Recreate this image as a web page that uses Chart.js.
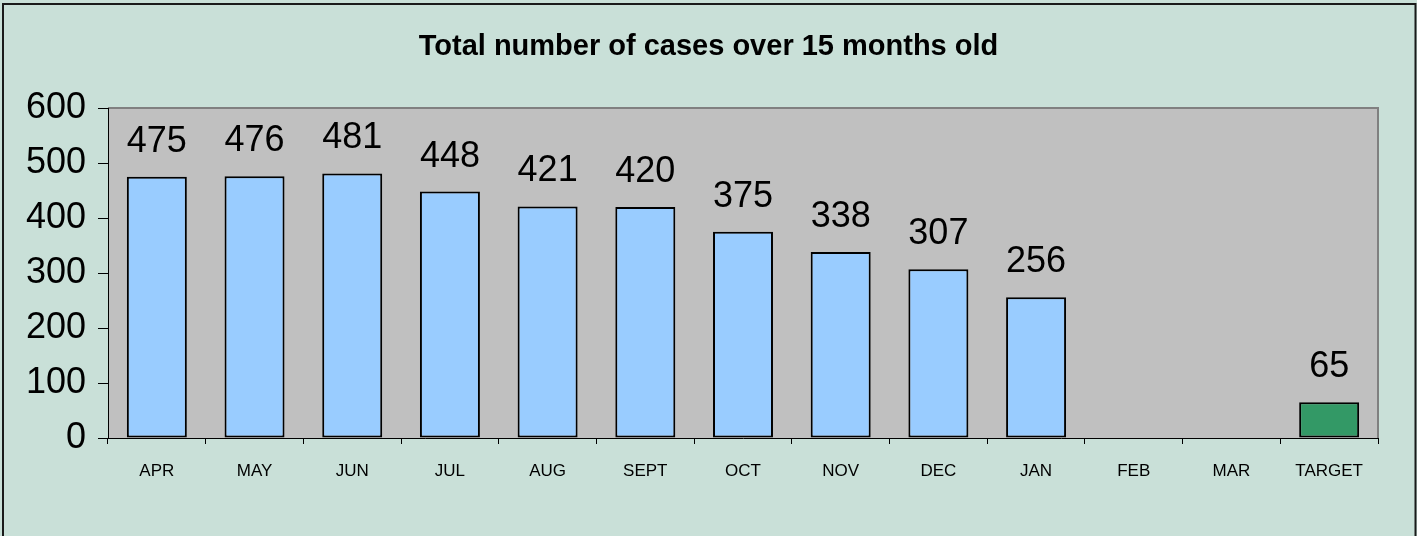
<!DOCTYPE html>
<html>
<head>
<meta charset="utf-8">
<script src="https://cdn.jsdelivr.net/npm/chart.js@4"></script>
<style>
html,body{margin:0;padding:0;background:#c9e0d8;}
#wrap{width:1417px;height:536px;position:relative;}
</style>
</head>
<body>
<div id="wrap"><canvas id="c" width="1417" height="536"></canvas></div>
<script>
const categories = ["APR","MAY","JUN","JUL","AUG","SEPT","OCT","NOV","DEC","JAN","FEB","MAR","TARGET"];
const cases = [475,476,481,448,421,420,375,338,307,256,null,null,65];
const barColors = ["#99ccff","#99ccff","#99ccff","#99ccff","#99ccff","#99ccff","#99ccff","#99ccff","#99ccff","#99ccff","#99ccff","#99ccff","#339966"];
const yTicks = [0,100,200,300,400,500,600];
const titleText = "Total number of cases over 15 months old";

const frame = {
  id: 'frame',
  beforeDraw(chart) {
    const ctx = chart.ctx, a = chart.chartArea;
    ctx.save();
    ctx.fillStyle = '#c9e0d8';
    ctx.fillRect(0, 0, chart.width, chart.height);
    ctx.strokeStyle = '#1a1a1a';
    ctx.lineWidth = 2;
    ctx.beginPath();
    ctx.moveTo(3, chart.height + 5);
    ctx.lineTo(3, 4);
    ctx.lineTo(1415.5, 4);
    ctx.lineTo(1415.5, chart.height + 5);
    ctx.stroke();
    ctx.fillStyle = '#c0c0c0';
    ctx.fillRect(a.left, a.top, a.right - a.left, a.bottom - a.top);
    ctx.strokeStyle = '#808080';
    ctx.lineWidth = 2;
    ctx.beginPath();
    ctx.moveTo(a.left, a.top);
    ctx.lineTo(a.right, a.top);
    ctx.lineTo(a.right, a.bottom);
    ctx.stroke();
    ctx.restore();
  }
};

const valueLabels = {
  id: 'valueLabels',
  afterDatasetsDraw(chart) {
    const ctx = chart.ctx;
    const meta = chart.getDatasetMeta(0);
    ctx.save();
    ctx.font = '36px "Liberation Sans", Arial, sans-serif';
    ctx.fillStyle = '#000';
    ctx.textAlign = 'center';
    ctx.textBaseline = 'alphabetic';
    meta.data.forEach((bar, i) => {
      const v = cases[i];
      if (v === null || v === undefined) return;
      ctx.fillText(String(v), bar.x, bar.y - 25);
    });
    ctx.restore();
  }
};

new Chart(document.getElementById('c'), {
  type: 'bar',
  data: {
    labels: categories,
    datasets: [{
      data: cases,
      backgroundColor: barColors,
      borderColor: '#000000',
      borderWidth: 2,
      borderSkipped: false,
      barPercentage: 0.614,
      categoryPercentage: 1.0
    }]
  },
  options: {
    responsive: false,
    animation: false,
    events: [],
    layout: { padding: { left: 0, right: 0, top: 0, bottom: 0 } },
    plugins: {
      legend: { display: false },
      tooltip: { enabled: false },
      title: {
        display: true,
        text: titleText,
        color: '#000',
        font: { family: '"Liberation Sans", Arial, sans-serif', size: 29, weight: 'bold', lineHeight: 1.2 },
        padding: { top: 29.6, bottom: 43.6 }
      }
    },
    scales: {
      x: {
        afterFit(scale) { scale.height = 98; },
        grid: { display: true, drawOnChartArea: false, drawTicks: true, tickLength: 6, tickColor: '#000', offset: true },
        border: { display: true, color: '#000', width: 1 },
        ticks: { color: '#000', font: { family: '"Liberation Sans", Arial, sans-serif', size: 17 }, padding: 17, maxRotation: 0, autoSkip: false }
      },
      y: {
        min: 0, max: 600,
        afterFit(scale) { scale.width = 108; },
        afterBuildTicks(scale) { scale.ticks = yTicks.map(v => ({ value: v })); },
        grid: { display: true, drawOnChartArea: false, drawTicks: true, tickLength: 10, tickColor: '#000' },
        border: { display: true, color: '#000', width: 1 },
        ticks: { color: '#000', font: { family: '"Liberation Sans", Arial, sans-serif', size: 36 }, padding: 12 }
      },
      yRightSpace: {
        position: 'right',
        min: 0, max: 600,
        display: true,
        afterFit(scale) { scale.width = 39; },
        grid: { display: false },
        border: { display: false },
        ticks: { display: false }
      }
    }
  },
  plugins: [frame, valueLabels]
});
</script>
</body>
</html>
